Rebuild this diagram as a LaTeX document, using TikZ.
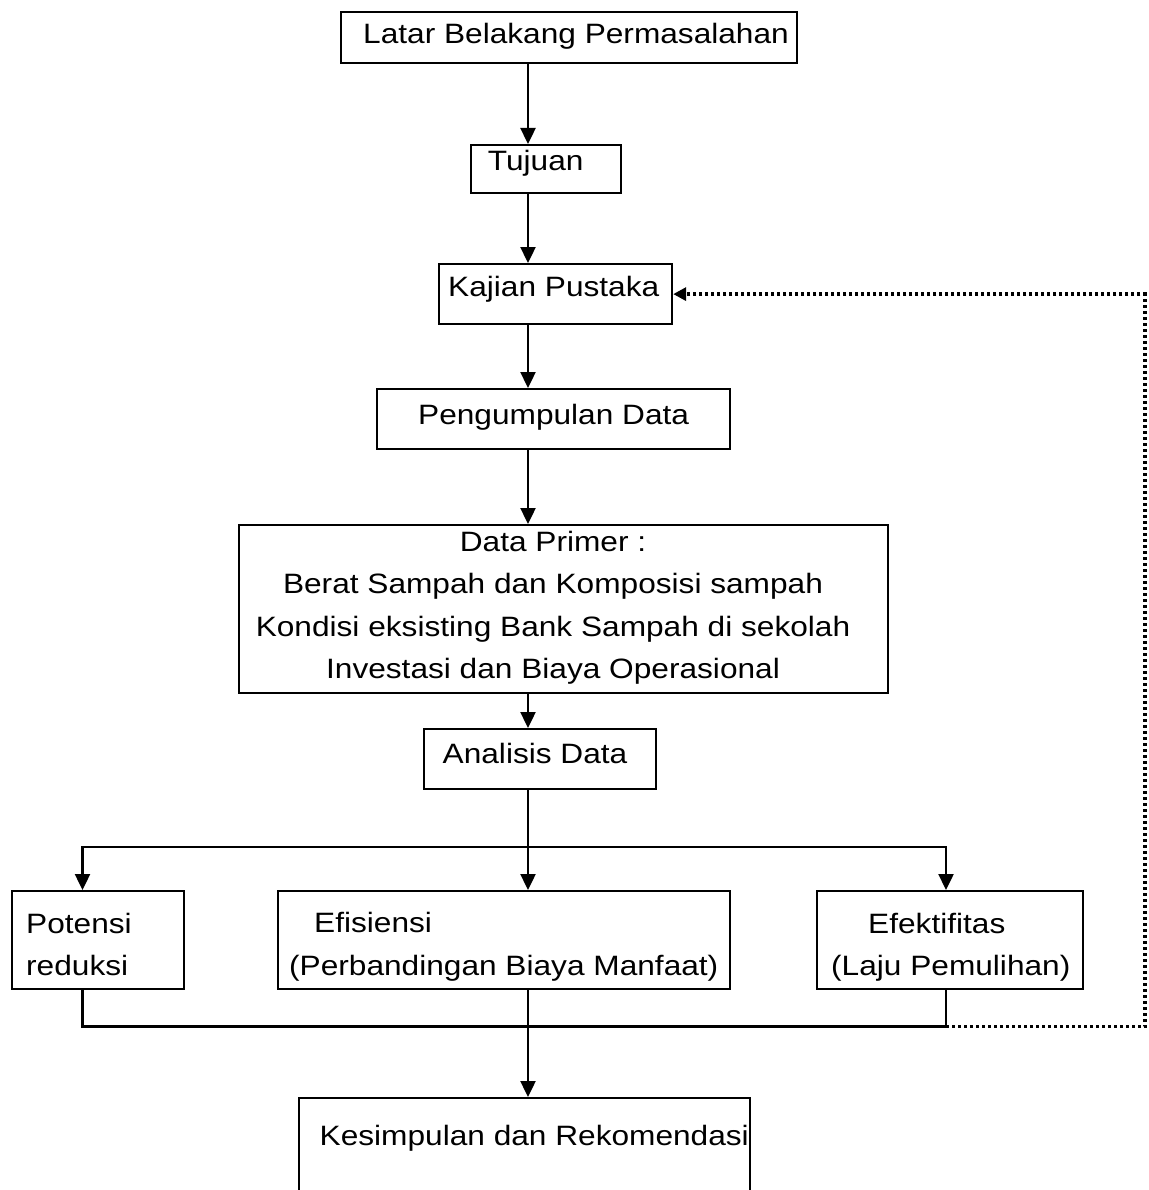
\documentclass[tikz,border=0pt]{standalone}
\usepackage{fontspec}
\setmainfont[FakeStretch=1.13]{Liberation Sans}
\usetikzlibrary{arrows.meta}
\tikzset{
  box/.style={draw=black, line width=2.2pt, inner sep=0pt, anchor=north west},
  txt/.style={inner sep=0pt, anchor=base west, font=\fontsize{28}{34}\selectfont},
  ctxt/.style={inner sep=0pt, anchor=base, font=\fontsize{28}{34}\selectfont},
  conn/.style={draw=black, line width=2.4pt},
  arr/.style={conn, -{Triangle[width=15pt,length=16pt]}},
  dotline/.style={draw=black, line width=3.4pt, dash pattern=on 3pt off 3pt},
  dotarr/.style={dotline, -{Triangle[width=13pt,length=13pt]}}
}
\begin{document}
\begin{tikzpicture}[x=1pt, y=-1pt]
\useasboundingbox (0,0) rectangle (1148,1190);
\fill[white] (0,0) rectangle (1148,1190);
\clip (0,0) rectangle (1148,1190);

% helper coordinates
\coordinate (spine) at (528,0);
\coordinate (px) at (82.5,0);
\coordinate (fx) at (946,0);
\coordinate (rx) at (1145,0);
\coordinate (br) at (0,847);
\coordinate (bus) at (0,1026.5);

% boxes
\node[box, minimum width=456pt, minimum height=51pt] (lb) at (340,11) {};
\node[box, minimum width=150pt, minimum height=48pt] (tuj) at (470,144) {};
\node[box, minimum width=233pt, minimum height=60pt] (kaj) at (438,263) {};
\node[box, minimum width=353pt, minimum height=60pt] (pd) at (376,388) {};
\node[box, minimum width=649pt, minimum height=168pt] (dp) at (238,524) {};
\node[box, minimum width=232pt, minimum height=60pt] (ana) at (423,728) {};
\node[box, minimum width=172pt, minimum height=98pt] (pot) at (11,890) {};
\node[box, minimum width=452pt, minimum height=98pt] (efs) at (277,890) {};
\node[box, minimum width=266pt, minimum height=98pt] (efk) at (816,890) {};
\node[box, minimum width=451pt, minimum height=160pt] (kes) at (298,1097) {};

% texts
\node[txt] (t1) at (363,44) {Latar Belakang Permasalahan};
\node[txt] (t2) at (487.7,171) {Tujuan};
\node[txt] (t3) at (448,296.5) {Kajian Pustaka};
\node[txt] (t4) at (418,424) {Pengumpulan Data};
\node[ctxt] (t5a) at (553,551.7) {Data Primer :};
\node[ctxt] (t5b) at (553,593.9) {Berat Sampah dan Komposisi sampah};
\node[ctxt] (t5c) at (553,636.1) {Kondisi eksisting Bank Sampah di sekolah};
\node[ctxt] (t5d) at (553,678.3) {Investasi dan Biaya Operasional};
\node[txt] (t6) at (442.5,763.3) {Analisis Data};
\node[txt] (t7a) at (26,933) {Potensi};
\node[txt] (t7b) at (26,975.5) {reduksi};
\node[txt] (t8a) at (314,932) {Efisiensi};
\node[txt] (t8b) at (289,975) {(Perbandingan Biaya Manfaat)};
\node[txt] (t9a) at (868,933) {Efektifitas};
\node[txt] (t9b) at (831,975.5) {(Laju Pemulihan)};
\node[txt] (t10) at (319.5,1145) {Kesimpulan dan Rekomendasi};

% main spine
\draw[arr] (lb.south -| spine) -- (tuj.north -| spine);
\draw[arr] (tuj.south -| spine) -- (kaj.north -| spine);
\draw[arr] (kaj.south -| spine) -- (pd.north -| spine);
\draw[arr] (pd.south -| spine) -- (dp.north -| spine);
\draw[arr] (dp.south -| spine) -- (ana.north -| spine);

% branch
\draw[conn] (ana.south -| spine) -- (spine |- br);
\draw[arr] (spine |- br) -| (pot.north -| px);
\draw[arr] (spine |- br) -| (efk.north -| fx);
\draw[arr] (spine |- br) -- (efs.north -| spine);

% collecting bus
\draw[conn] (pot.south -| px) -- (px |- bus) -- (fx |- bus) -- (efk.south -| fx);
\draw[arr] (efs.south -| spine) -- (kes.north -| spine);

% feedback dotted
\draw[dotarr] (fx |- bus) -- (rx |- bus) -- (rx |- kaj.east) -- (kaj.east);
\end{tikzpicture}
\end{document}
